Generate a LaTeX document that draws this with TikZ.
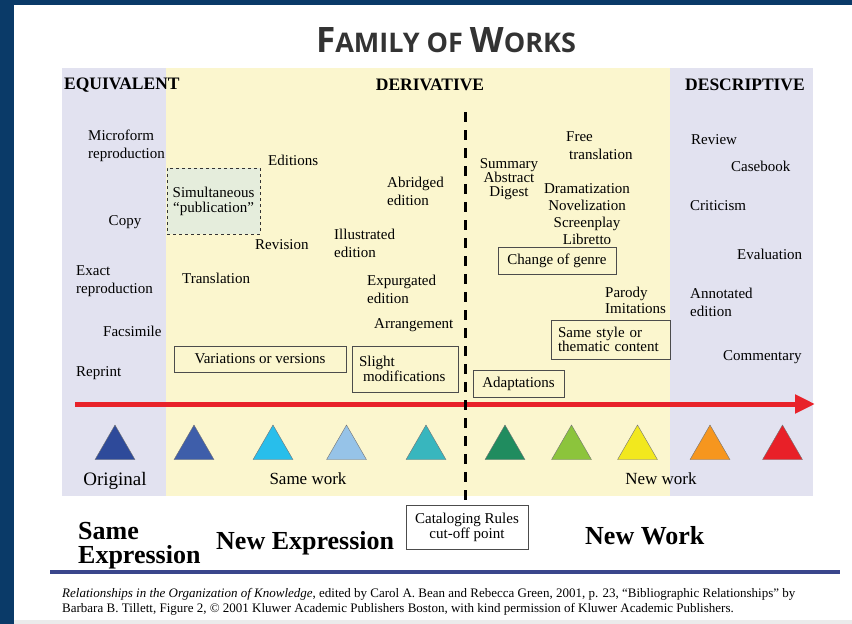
\documentclass[tikz,border=0pt]{standalone}
\usepackage{fontspec}
\setmainfont{Liberation Serif}
\newfontfamily\titlefont{Open Sans}
\usepackage{tikz}
\usetikzlibrary{positioning,shapes.geometric,arrows.meta}
\definecolor{frameblue}{RGB}{10,58,104}
\definecolor{lavgray}{RGB}{226,226,240}
\definecolor{paleyel}{RGB}{251,246,206}
\definecolor{palegreen}{RGB}{229,237,220}
\definecolor{redline}{RGB}{232,34,42}
\definecolor{blueline}{RGB}{58,70,140}
\newcommand{\sz}[2]{\fontsize{#1}{#2}\selectfont}

\begin{document}
\begin{tikzpicture}[x=1pt,y=-1pt,inner sep=0pt,node distance=3mm and 10mm]
\tikzstyle{txt}=[font=\sz{15}{18}, align=left, anchor=west]
\tikzstyle{hdr}=[font=\sz{17.5}{20}\bfseries]
\tikzstyle{box}=[rectangle, draw=black!70, thin, font=\sz{15}{15}, align=left]
\tikzstyle{tri}=[regular polygon, regular polygon sides=3, minimum size=46pt, draw=black!55, thin]
\tikzstyle{cut}=[line width=3pt, dash pattern=on 10pt off 8pt]
\tikzstyle{big}=[font=\sz{26}{24}\bfseries, align=left, anchor=west]
\useasboundingbox (0,0) rectangle (852,624);
\fill[frameblue] (0,0) rectangle (852,624);
\fill[white] (14,5) rectangle (852,620);
\fill[black!8] (14,620) rectangle (852,624);
% bands
\fill[lavgray] (62,68) rectangle (166,496);
\fill[paleyel] (166,68) rectangle (670,496);
\fill[lavgray] (670,68) rectangle (813,496);
\node[font=\titlefont\bfseries, text=black!80] (title) at (446,40) {{\sz{35}{35}F}{\sz{27}{27}AMILY OF }{\sz{35}{35}W}{\sz{27}{27}ORKS}};
\node[hdr, anchor=west] (equiv) at (64,85) {EQUIVALENT};
\node[hdr] (deriv) at (430,85) {DERIVATIVE};
\node[hdr, anchor=west] (descr) at (685,85) {DESCRIPTIVE};
% equivalent
\node[txt] (micro) at (88,146) {Microform\\reproduction};
\node[txt, anchor=center] (copy) at (125,222) {Copy};
\node[txt] (exact) at (76,281) {Exact\\reproduction};
\node[txt] (facs) at (103,331) {Facsimile};
\node[txt] (reprint) at (76,373) {Reprint};
% derivative, left of cut-off
\node[box, dashed, draw=black!80, fill=palegreen, minimum width=93pt, minimum height=66pt, align=center] (simul) at (213.5,201) {Simultaneous\\``publication''};
\node[txt] (editions) at (268,160) {Editions};
\node[txt] (revision) at (255,245) {Revision};
\node[txt] (transl) at (182,278) {Translation};
\node[txt] (illus) at (334,243) {Illustrated\\edition};
\node[txt] (abridg) at (387,191) {Abridged\\edition};
\node[txt] (expurg) at (367,289) {Expurgated\\edition};
\node[txt] (arrang) at (374,325) {Arrangement};
\node[box, minimum width=172pt, minimum height=26pt, align=center] (variat) at (260,359) {Variations or versions};
\node[box, minimum width=106pt, minimum height=46pt, text width=92pt] (slight) at (405,369) {Slight\\\hspace*{4pt}modifications};
% derivative, right of cut-off
\node[txt, anchor=center, align=center, font=\sz{15}{14}] (summ) at (509,179) {Summary\\Abstract\\Digest};
\node[txt] (free) at (566,146) {Free\\\hspace*{3pt}translation};
\node[txt, anchor=center, align=center, font=\sz{15}{17}] (drama) at (587,214) {Dramatization\\Novelization\\Screenplay\\Libretto};
\node[box, minimum width=118pt, minimum height=27pt, align=center] (genre) at (557,260.5) {Change of genre};
\node[txt, font=\sz{15}{16}] (parody) at (605,300) {Parody\\Imitations};
\node[box, minimum width=119pt, minimum height=39pt, text width=105pt, font=\sz{15}{14}] (style) at (610.5,339.5) {Same style or\\thematic content};
\node[box, minimum width=91pt, minimum height=27pt, align=center] (adapt) at (518.5,383.5) {Adaptations};
% descriptive
\node[txt] (review) at (691,140) {Review};
\node[txt] (caseb) at (731,166) {Casebook};
\node[txt] (critic) at (690,206) {Criticism};
\node[txt] (evalu) at (737,254) {Evaluation};
\node[txt] (annot) at (690,302) {Annotated\\edition};
\node[txt] (comment) at (723,357) {Commentary};
% scale
\coordinate (astart) at (75,404);
\coordinate (aend) at (815,404);
\draw[redline, line width=5pt, -{Triangle[length=20pt,width=18pt]}] (astart) -- (aend);
\node[tri, fill={rgb,255:red,46;green,74;blue,154}] (t1) at (115,448) {};
\node[tri, fill={rgb,255:red,62;green,94;blue,170}] (t2) at (194,448) {};
\node[tri, fill={rgb,255:red,40;green,190;blue,235}] (t3) at (273,448) {};
\node[tri, fill={rgb,255:red,150;green,195;blue,232}] (t4) at (346.5,448) {};
\node[tri, fill={rgb,255:red,56;green,182;blue,190}] (t5) at (426,448) {};
\node[tri, fill={rgb,255:red,32;green,140;blue,95}] (t6) at (505,448) {};
\node[tri, fill={rgb,255:red,140;green,196;blue,60}] (t7) at (571.5,448) {};
\node[tri, fill={rgb,255:red,242;green,232;blue,30}] (t8) at (637.5,448) {};
\node[tri, fill={rgb,255:red,246;green,150;blue,30}] (t9) at (710,448) {};
\node[tri, fill={rgb,255:red,232;green,32;blue,40}] (t10) at (782.5,448) {};
\node[font=\sz{19}{19}] (orig) at (115,481) {Original};
\node[font=\sz{17}{17}] (samew) at (308,479) {Same work};
\node[font=\sz{17}{17}] (neww) at (661,479) {New work};
% cut-off
\node[box, minimum width=122pt, minimum height=44pt, align=center, fill=white] (cutoff) at (467,527) {Cataloging Rules\\cut-off point};
\coordinate (dtop) at (465,112);
\draw[cut] (dtop) -- (dtop |- cutoff.north);
\node[big] (sameexp) at (78,546) {Same\\Expression};
\node[big] (newexp) at (216,543) {New Expression};
\node[big] (newwork) at (585,536) {New Work};
\coordinate (lstart) at (50,572);
\coordinate (lend) at (840,572);
\draw[blueline, line width=4pt] (lstart) -- (lend);
\node[txt, font=\sz{13}{14.5}] (credit) at (62,602) {\textit{Relationships in the Organization of Knowledge}, edited by Carol A. Bean and Rebecca Green, 2001, p. 23, ``Bibliographic Relationships'' by\\Barbara B. Tillett, Figure 2, © 2001 Kluwer Academic Publishers Boston, with kind permission of Kluwer Academic Publishers.};
\end{tikzpicture}
\end{document}
